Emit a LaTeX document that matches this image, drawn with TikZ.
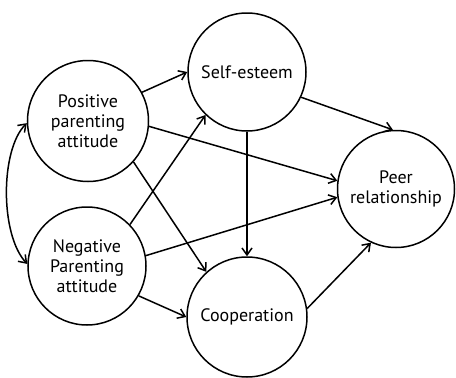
\documentclass[tikz,border=0pt]{standalone}
\usepackage{fontspec}
\setmainfont{PT Sans}
\usetikzlibrary{arrows.meta}
\begin{document}
\begin{tikzpicture}[x=1pt,y=-1pt,
  var/.style={circle,draw,line width=1.5pt,minimum size=#1,inner sep=0pt,align=center,font=\fontsize{18}{20}\selectfont},
  arr/.style={line width=1.5pt,-{Straight Barb[length=7pt,width=10pt,line width=1.5pt]}},
  darr/.style={line width=1.5pt,{Straight Barb[length=7pt,width=10pt,line width=1.5pt]}-{Straight Barb[length=7pt,width=10pt,line width=1.5pt]}}]
\useasboundingbox (0,0) rectangle (456,378);
\node[var=121pt] (pos) at (88,121) {Positive\\parenting\\attitude};
\node[var=118pt] (neg) at (87,266) {Negative\\Parenting\\attitude};
\node[var=118pt] (se) at (247,72) {Self-esteem};
\node[var=120pt] (co) at (247,317) {Cooperation};
\node[var=117pt] (pr) at (396,189) {Peer\\relationship};
\draw[arr] (pos.28) -- (se.west);
\draw[arr] (pos.-5) -- (pr.172);
\draw[arr] (pos.-42) -- (co.132);
\draw[arr] (neg.44) -- (se.-134);
\draw[arr] (neg.10) -- (pr.188);
\draw[arr] (neg.-30) -- (co.west);
\draw[arr] (se.south) -- (co.north);
\draw[arr] (se.-25) -- (pr.93);
\draw[arr] (co.8) -- (pr.-115);
\draw[darr] (pos.182) .. controls (0,150) and (0,235) .. (neg.178);
\end{tikzpicture}
\end{document}
